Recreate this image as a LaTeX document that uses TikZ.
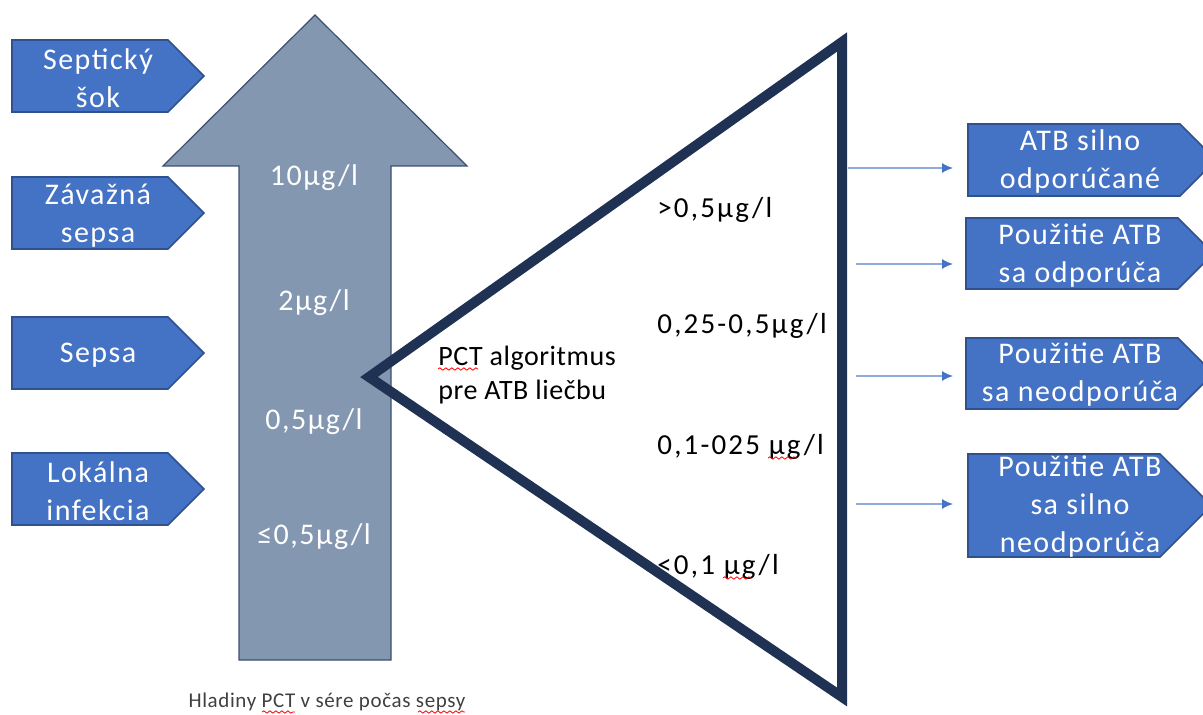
\documentclass[tikz,border=0pt]{standalone}
\usepackage{fontspec}
\setmainfont{Carlito}
\usepackage{tikz}
\usetikzlibrary{arrows.meta, decorations.pathmorphing}

\definecolor{boxblue}{HTML}{4472C4}
\definecolor{boxedge}{HTML}{2F528F}
\definecolor{arrowgray}{HTML}{8497B0}
\definecolor{arrowedge}{HTML}{3B4E6E}
\definecolor{trinavy}{HTML}{1F3254}
\definecolor{connblue}{HTML}{8FAADC}
\definecolor{titlegray}{HTML}{404040}

\begin{document}
\begin{tikzpicture}[x=0.5pt, y=-0.5pt,
  levelbox/.style={fill=boxblue, draw=boxedge, line width=0.8pt},
  boxtext/.style={text=white, align=center, inner sep=0pt, font=\fontsize{15}{19}\selectfont\addfontfeature{LetterSpace=5}},
  pctarrow/.style={fill=arrowgray, draw=arrowedge, line width=0.6pt},
  pcttext/.style={text=white, inner sep=0pt, font=\fontsize{15}{19}\selectfont\addfontfeature{LetterSpace=5}},
  algtri/.style={draw=trinavy, line width=5pt},
  rangetext/.style={anchor=west, inner sep=0pt, font=\fontsize{14.5}{19}\selectfont\addfontfeature{LetterSpace=7.5}},
  conn/.style={draw=connblue, line width=0.7pt, -{Latex[length=5.5pt, width=5pt, color=boxblue]}},
  spellmark/.style={draw=red, line width=0.4pt, decorate, decoration={snake, amplitude=0.6pt, segment length=3pt}}]
  \useasboundingbox (0,0) rectangle (1203,715);

  % levels on the left
  \foreach \t in {40,177,317,453}
    \draw[levelbox] (12,\t) -- ++(156,0) -- ++(36,36) -- ++(-36,36) -- ++(-156,0) -- cycle;
  \node[boxtext] (shock) at (98,78) {Septický\\šok};
  \node[boxtext] (severe) at (98,216) {Závažná\\sepsa};
  \node[boxtext] (sepsis) at (98,355) {Sepsa};
  \node[boxtext] (local) at (98,491) {Lokálna\\infekcia};

  % PCT arrow
  \draw[pctarrow] (239,660) -- (239,166) -- (163,166) -- (315,15) -- (467,166) -- (391,166) -- (391,660) -- cycle;
  \node[pcttext] (ten) at (314,178) {10µg/l};
  \node[pcttext] (two) at (314,303) {2µg/l};
  \node[pcttext] (half) at (314,422) {0,5µg/l};
  \node[pcttext] (low) at (314,537) {≤0,5µg/l};
  \node[font=\fontsize{10.5}{12}\selectfont\addfontfeature{LetterSpace=3}, text=titlegray, inner sep=0pt] (title) at (327,702) {Hladiny PCT v sére počas sepsy};

  % algorithm triangle
  \draw[algtri] (369,377) -- (842,42) -- (842,697) -- cycle;
  \node[rangetext, align=left, font=\fontsize{14}{17}\selectfont\addfontfeature{LetterSpace=2}] (algo) at (438,375) {PCT algoritmus\\pre ATB liečbu};
  \node[rangetext] (r1) at (657,210) {>0,5µg/l};
  \node[rangetext] (r2) at (657,326) {0,25-0,5µg/l};
  \node[rangetext] (r3) at (657,447) {0,1-025 µg/l};
  \node[rangetext] (r4) at (657,567) {<0,1 µg/l};

  % recommendations on the right
  \draw[levelbox] (968,124) -- (1180,124) -- (1216,160) -- (1180,196) -- (968,196) -- cycle;
  \draw[levelbox] (966,218) -- (1178,218) -- (1213.5,253.5) -- (1178,289) -- (966,289) -- cycle;
  \draw[levelbox] (966,338) -- (1178,338) -- (1213.5,373.5) -- (1178,409) -- (966,409) -- cycle;
  \draw[levelbox] (968,454) -- (1160,454) -- (1211.5,505.5) -- (1160,557) -- (968,557) -- cycle;
  \node[boxtext] (strong) at (1080,162) {ATB silno\\odporúčané};
  \node[boxtext] (advised) at (1080,256) {Použitie ATB\\sa odporúča};
  \node[boxtext] (notadvised) at (1080,375) {Použitie ATB\\sa neodporúča};
  \node[boxtext] (strongnot) at (1080,507) {Použitie ATB\\sa silno\\neodporúča};

  \coordinate (s1) at (848,168);
  \coordinate (s2) at (856,264);
  \coordinate (s3) at (856,376);
  \coordinate (s4) at (856,504);
  \coordinate (e1) at (953,168);
  \coordinate (e2) at (953,264);
  \coordinate (e3) at (953,376);
  \coordinate (e4) at (953,504);
  \foreach \i in {1,...,4}
    \draw[conn] (s\i) -- (e\i);

  % spelling marks
  \draw[spellmark] (438,369) -- (478,369);
  \draw[spellmark] (768,458) -- (797,458);
  \draw[spellmark] (723,578) -- (751,578);
  \draw[spellmark] (262,712) -- (295,712);
  \draw[spellmark] (418,712) -- (465,712);
\end{tikzpicture}
\end{document}
